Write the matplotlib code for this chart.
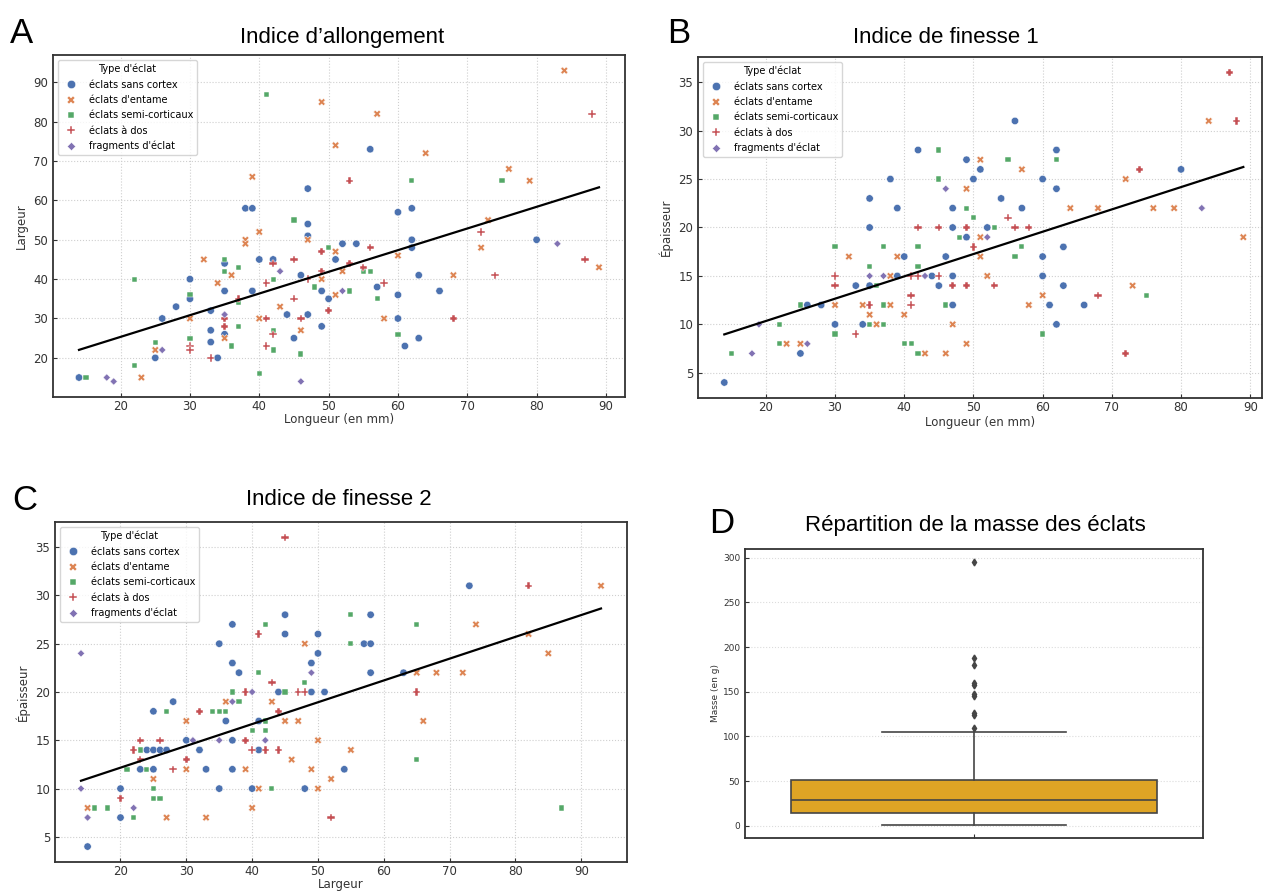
import matplotlib
matplotlib.use("Agg")
import matplotlib.pyplot as plt
from matplotlib.ticker import MultipleLocator
import numpy as np
import pandas as pd
import seaborn as sns

TYPES = ["éclats sans cortex", "éclats d'entame", "éclats semi-corticaux",
         "éclats à dos", "fragments d'éclat"]
MARKERS = ["o", "X", (4, 0, 45), "P", (4, 0, 0)]

# A : longueur / largeur
a_sans_x = [14, 30, 30, 28, 26, 25, 33, 33, 33, 34, 35, 35, 35, 38, 39, 39, 40, 42, 44, 45, 46,
            47, 47, 47, 47, 49, 49, 50, 56, 60, 62, 62, 62, 52, 54, 51, 63, 57, 66, 60, 60, 61, 63, 80]
a_sans_y = [15, 40, 35, 33, 30, 20, 32, 27, 24, 20, 44, 37, 26, 58, 58, 37, 45, 45, 31, 25, 41,
            63, 54, 51, 31, 37, 28, 35, 73, 57, 58, 50, 48, 49, 49, 45, 41, 38, 37, 36, 30, 23, 25, 50]
a_entame_x = [23, 25, 30, 32, 34, 35, 36, 38, 38, 39, 40, 40, 43, 46, 47, 49, 49,
              57, 51, 64, 84, 76, 79, 73, 72, 51, 60, 52, 68, 89, 51, 58]
a_entame_y = [15, 22, 30, 45, 39, 25, 41, 50, 49, 66, 52, 30, 33, 27, 50, 85, 40,
              82, 74, 72, 93, 68, 65, 55, 48, 47, 46, 42, 41, 43, 36, 30]
a_semi_x = [15, 22, 22, 25, 30, 30, 35, 35, 36, 37, 37, 37, 40, 41, 42, 42, 42, 45, 46, 48,
            50, 62, 75, 55, 56, 53, 57, 60]
a_semi_y = [15, 40, 18, 24, 36, 25, 45, 42, 23, 43, 34, 28, 16, 87, 40, 27, 22, 55, 21, 38,
            48, 65, 65, 42, 42, 37, 35, 26]
a_dos_x = [30, 30, 33, 35, 35, 37, 41, 41, 41, 42, 42, 45, 45, 46, 47, 49, 49, 50,
           53, 53, 55, 56, 58, 72, 74, 68, 87, 88]
a_dos_y = [23, 22, 20, 30, 28, 35, 39, 30, 23, 44, 26, 45, 35, 30, 40, 47, 42, 32,
           65, 44, 43, 48, 39, 52, 41, 30, 45, 82]
a_frag_x = [18, 19, 26, 35, 43, 46, 52, 83]
a_frag_y = [15, 14, 22, 31, 42, 14, 37, 49]

# B : longueur / epaisseur
b_sans_x = [14, 25, 26, 28, 30, 33, 34, 35, 35, 35, 38, 39, 39, 40, 42, 44, 45, 46, 47, 47, 47,
            47, 49, 49, 50, 51, 56, 62, 62, 60, 54, 57, 52, 63, 60, 60, 63, 61, 66, 62, 80]
b_sans_y = [4, 7, 12, 12, 10, 14, 10, 23, 20, 14, 25, 22, 15, 17, 28, 15, 14, 17, 22, 20, 15,
            12, 27, 19, 25, 26, 31, 28, 24, 25, 23, 22, 20, 18, 17, 15, 14, 12, 12, 10, 26]
b_entame_x = [23, 25, 30, 32, 34, 35, 36, 38, 38, 39, 40, 43, 46, 47, 49, 49, 51, 51, 51,
              57, 72, 64, 68, 76, 79, 84, 89, 52, 73, 60, 58]
b_entame_y = [8, 8, 12, 17, 12, 11, 10, 12, 15, 17, 11, 7, 7, 10, 24, 8, 27, 19, 17,
              26, 25, 22, 22, 22, 22, 31, 19, 15, 14, 13, 12]
b_semi_x = [15, 22, 22, 25, 30, 30, 35, 35, 36, 37, 37, 37, 40, 41, 42, 42, 42, 45, 45, 46,
            48, 49, 50, 55, 62, 53, 57, 56, 75, 60]
b_semi_y = [7, 10, 8, 12, 18, 9, 16, 10, 14, 18, 12, 10, 8, 8, 18, 16, 7, 28, 25, 12,
            19, 22, 21, 27, 27, 20, 18, 17, 13, 9]
b_dos_x = [30, 30, 33, 35, 41, 41, 41, 42, 42, 45, 45, 47, 49, 49, 50, 55, 56, 58, 53, 68,
           74, 87, 88, 72]
b_dos_y = [15, 14, 9, 12, 15, 13, 12, 20, 15, 20, 15, 14, 20, 14, 18, 21, 20, 20, 14, 13,
           26, 36, 31, 7]
b_frag_x = [18, 19, 26, 35, 37, 43, 46, 52, 83]
b_frag_y = [7, 10, 8, 15, 15, 15, 24, 19, 22]

# C : largeur / epaisseur
c_sans_x = [15, 20, 20, 23, 24, 25, 25, 25, 26, 27, 28, 30, 32, 33, 35, 35, 36, 37, 37, 37, 37,
            38, 40, 41, 41, 44, 45, 45, 48, 49, 49, 50, 50, 51, 73, 58, 57, 58, 58, 63, 54]
c_sans_y = [4, 10, 7, 12, 14, 18, 14, 12, 14, 14, 19, 15, 14, 12, 25, 10, 17, 27, 23, 15, 12,
            22, 10, 17, 14, 20, 28, 26, 10, 23, 20, 26, 24, 20, 31, 28, 25, 25, 22, 22, 12]
c_entame_x = [15, 25, 27, 30, 30, 33, 36, 39, 40, 41, 43, 45, 46, 47, 48, 49, 50, 50, 52,
              93, 74, 82, 85, 65, 68, 72, 66, 55]
c_entame_y = [8, 11, 7, 17, 12, 7, 19, 12, 8, 10, 19, 17, 13, 17, 25, 12, 15, 10, 11,
              31, 27, 26, 24, 22, 22, 22, 17, 14]
c_semi_x = [16, 18, 21, 22, 23, 24, 25, 25, 26, 27, 34, 35, 36, 37, 38, 40, 41, 42, 42, 42,
            43, 45, 48, 55, 65, 55, 65, 87]
c_semi_y = [8, 8, 12, 7, 14, 12, 10, 9, 9, 18, 18, 18, 18, 20, 19, 16, 22, 27, 17, 16,
            10, 20, 21, 28, 27, 25, 13, 8]
c_dos_x = [20, 22, 23, 23, 26, 28, 30, 32, 39, 39, 40, 41, 42, 43, 44, 44, 45, 47, 48, 52, 82, 65]
c_dos_y = [9, 14, 15, 13, 15, 12, 13, 18, 20, 15, 14, 26, 14, 21, 18, 14, 36, 20, 20, 7, 31, 20]
c_frag_x = [14, 14, 15, 22, 31, 35, 37, 40, 42, 49]
c_frag_y = [24, 10, 7, 8, 15, 15, 19, 20, 15, 22]

# D : masse (en g)
masse_q1, masse_med, masse_q3 = 14, 29, 51
masse_whislo, masse_whishi = 1, 105
masse_fliers = [109, 124, 126, 145, 148, 157, 160, 180, 188, 295]

W, H = 1264, 893
TITLE_FONT = ["Liberation Sans", "DejaVu Sans"]

plt.rcParams.update({
    "font.family": "DejaVu Sans",
    "axes.edgecolor": "#333333",
    "axes.linewidth": 1.3,
    "xtick.direction": "in",
    "ytick.direction": "in",
    "xtick.color": "#333333",
    "ytick.color": "#333333",
    "xtick.major.size": 3,
    "ytick.major.size": 3,
    "xtick.major.pad": 2,
})


def box(l, t, r, b):
    return [l / W, 1 - b / H, (r - l) / W, (b - t) / H]


def make_df(xs, ys):
    rows = []
    for t, x, y in zip(TYPES, xs, ys):
        rows += [(t, xi, yi) for xi, yi in zip(x, y)]
    return pd.DataFrame(rows, columns=["type", "x", "y"])


def scatter_panel(ax, df, xlabel, ylabel, ystep, xpad):
    sns.scatterplot(data=df, x="x", y="y", hue="type", style="type", hue_order=TYPES,
                    style_order=TYPES, markers=MARKERS, palette="deep", s=28,
                    linewidth=0.35, ax=ax)
    coef = np.polyfit(df.x, df.y, 1)
    xs = np.array([df.x.min(), df.x.max()])
    ax.plot(xs, np.polyval(coef, xs), color="black", lw=1.6)
    ax.grid(True, color="#cfcfcf", linestyle=":", linewidth=0.8)
    ax.set_axisbelow(True)
    ax.xaxis.set_major_locator(MultipleLocator(10))
    ax.yaxis.set_major_locator(MultipleLocator(ystep))
    ax.tick_params(labelsize=8.5)
    ax.set_xlabel(xlabel, fontsize=8.5, color="#333333", labelpad=xpad)
    ax.set_ylabel(ylabel, fontsize=8.5, color="#333333")
    sns.move_legend(ax, "upper left", title="Type d'éclat", fontsize=7, title_fontsize=7,
                    frameon=True, edgecolor="#cccccc", borderaxespad=0.5, labelspacing=0.55)
    for h in ax.get_legend().legend_handles:
        h.set_markersize(6)


fig = plt.figure(figsize=(W / 100, H / 100), dpi=100)

ax_a = fig.add_axes(box(53, 55, 625, 397))
scatter_panel(ax_a, make_df([a_sans_x, a_entame_x, a_semi_x, a_dos_x, a_frag_x],
                            [a_sans_y, a_entame_y, a_semi_y, a_dos_y, a_frag_y]),
              "Longueur (en mm)", "Largeur", 10, 0.5)

ax_b = fig.add_axes(box(698, 57, 1262, 398))
scatter_panel(ax_b, make_df([b_sans_x, b_entame_x, b_semi_x, b_dos_x, b_frag_x],
                            [b_sans_y, b_entame_y, b_semi_y, b_dos_y, b_frag_y]),
              "Longueur (en mm)", "Épaisseur", 5, 1.5)
ax_b.set_xlim(10.2, 91.7)

ax_c = fig.add_axes(box(55, 522, 627, 862))
scatter_panel(ax_c, make_df([c_sans_x, c_entame_x, c_semi_x, c_dos_x, c_frag_x],
                            [c_sans_y, c_entame_y, c_semi_y, c_dos_y, c_frag_y]),
              "Largeur", "Épaisseur", 5, 0.5)

ax_d = fig.add_axes(box(745, 549, 1203, 838))
stats = [{"q1": masse_q1, "med": masse_med, "q3": masse_q3, "whislo": masse_whislo,
          "whishi": masse_whishi, "fliers": masse_fliers}]
line_c = "#454545"
ax_d.bxp(stats, positions=[0], widths=0.8, patch_artist=True,
         boxprops=dict(facecolor="#DEA425", edgecolor=line_c, linewidth=1.2),
         medianprops=dict(color=line_c, linewidth=1.2),
         whiskerprops=dict(color=line_c, linewidth=1.2),
         capprops=dict(color=line_c, linewidth=1.2),
         flierprops=dict(marker="d", markerfacecolor=line_c, markeredgecolor=line_c,
                         markersize=3.5))
ax_d.set_xlim(-0.5, 0.5)
ax_d.set_xticks([0])
ax_d.set_xticklabels([""])
ax_d.yaxis.set_major_locator(MultipleLocator(50))
ax_d.grid(True, axis="y", color="#dcdcdc", linestyle=":", linewidth=0.8)
ax_d.set_axisbelow(True)
ax_d.tick_params(labelsize=6.5)
ax_d.set_ylabel("Masse (en g)", fontsize=6.5, color="#333333", labelpad=2)

for letter, x, y in [("A", 10, 43.3), ("B", 667, 43.3), ("C", 12, 510), ("D", 709, 533)]:
    fig.text(x / W, 1 - y / H, letter, fontsize=25, family=TITLE_FONT, ha="left", va="baseline")
for title, x, y in [("Indice d’allongement", 342.5, 42.7), ("Indice de finesse 1", 945.5, 42.7),
                    ("Indice de finesse 2", 338.5, 505), ("Répartition de la masse des éclats", 975.5, 530.7)]:
    fig.text(x / W, 1 - y / H, title, fontsize=16, family=TITLE_FONT, ha="center", va="baseline")

fig.savefig("out.png", dpi=100)
